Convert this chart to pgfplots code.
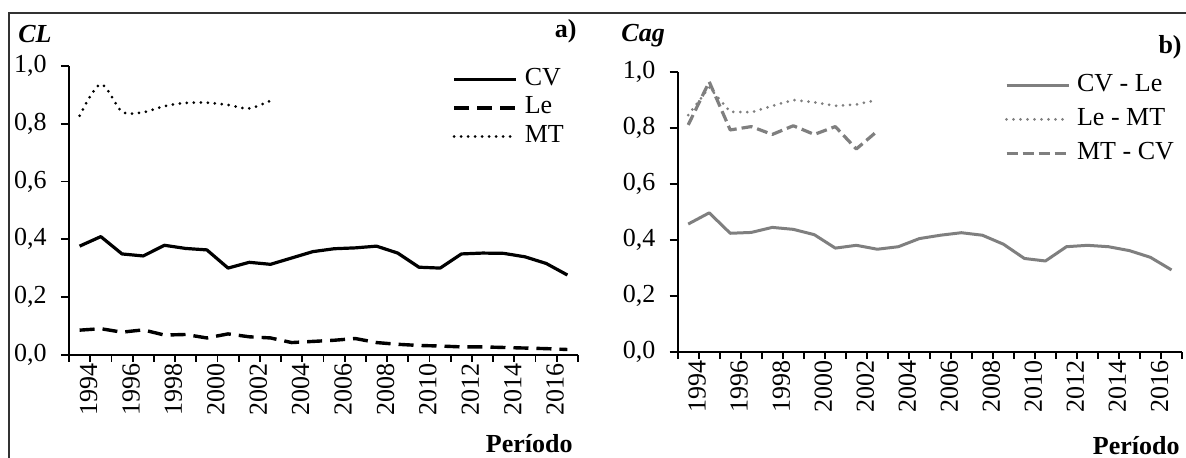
\documentclass[border=0pt]{standalone}
\usepackage{fontspec}
\setmainfont{Liberation Serif}
\usepackage{pgfplots}
\pgfplotsset{compat=1.18}

\definecolor{linegray}{RGB}{127,127,127}
\definecolor{framegray}{RGB}{50,50,50}

\newcommand{\bigfont}{\fontsize{13}{15}\selectfont}

\pgfplotsset{
  panel/.style={
    scale only axis,
    xmin=-0.5, xmax=23.5,
    ymin=0, ymax=1,
    axis x line=bottom, axis y line=left,
    axis line style={-, line width=0.9pt, black},
    tick align=outside,
    major tick length=4pt,
    minor tick length=3.5pt,
    ytick={0,0.2,0.4,0.6,0.8,1},
    ytick style={line width=0.9pt, black},
    xtick={0,...,23},
    xticklabels={1994,,1996,,1998,,2000,,2002,,2004,,2006,,2008,,2010,,2012,,2014,,2016,},
    major x tick style={draw=none},
    minor xtick={-0.5,0.5,...,23.5},
    minor x tick style={line width=0.9pt, black},
    every tick label/.append style={font=\bigfont, inner sep=0pt},
    x tick label style={rotate=90, anchor=east, yshift=-4.5pt},
    y tick label style={anchor=east, xshift=-7pt},
    /pgf/number format/.cd, fixed, fixed zerofill, precision=1, use comma, assume math mode=true,
    /pgfplots/.cd,
    legend cell align=left,
    legend image code/.code={\draw[##1] (0pt,0pt) -- (31pt,0pt); \path (34pt,0pt);},
    legend style={draw=none, fill=none, inner sep=0pt, anchor=north west,
      font=\bigfont,
      nodes={inner sep=0.5pt, text height=9pt, text depth=3pt}},
  }
}

\begin{document}
\bigfont
\begin{tikzpicture}[font=\bigfont]
\useasboundingbox (0pt,0pt) rectangle (593pt,229pt);
\draw[line width=1.1pt, framegray] (4.5pt,0pt) -- (4.5pt,222.5pt) -- (593pt,222.5pt);

% panel a
\begin{axis}[panel,
  at={(34.5pt,51.65pt)}, anchor=south west,
  width=254.5pt, height=144.35pt,
  legend style={at={(0.7525,1.0)}, row sep=1.3pt},
]
\addplot[black, line width=1.6pt, line join=round] coordinates {
(0,0.376)(1,0.409)(2,0.349)(3,0.342)(4,0.379)(5,0.368)(6,0.363)(7,0.300)
(8,0.320)(9,0.313)(10,0.335)(11,0.357)(12,0.367)(13,0.370)(14,0.376)(15,0.352)
(16,0.303)(17,0.300)(18,0.349)(19,0.352)(20,0.351)(21,0.339)(22,0.316)(23,0.276)};
\addlegendentry{CV}
\addplot[black, line width=1.7pt, dash pattern=on 7.5pt off 4pt] coordinates {
(0,0.085)(1,0.090)(2,0.078)(3,0.086)(4,0.068)(5,0.070)(6,0.058)(7,0.072)
(8,0.062)(9,0.058)(10,0.042)(11,0.046)(12,0.050)(13,0.056)(14,0.042)(15,0.036)
(16,0.032)(17,0.030)(18,0.027)(19,0.027)(20,0.025)(21,0.023)(22,0.021)(23,0.018)};
\addlegendentry{Le}
\addplot[black, line width=1.5pt, line cap=round, dash pattern=on 0pt off 3.5pt, smooth] coordinates {
(0,0.828)(1,0.937)(2,0.842)(3,0.840)(4,0.861)(5,0.872)(6,0.873)(7,0.865)(8,0.853)(9,0.880)};
\addlegendentry{MT}
\end{axis}

% panel b
\begin{axis}[panel,
  at={(338.85pt,53pt)}, anchor=south west,
  width=252.15pt, height=140pt,
  legend style={at={(0.648,1.0)}, row sep=4pt},
]
\addplot[linegray, line width=1.5pt, line join=round] coordinates {
(0,0.457)(1,0.497)(2,0.424)(3,0.427)(4,0.445)(5,0.438)(6,0.419)(7,0.371)
(8,0.381)(9,0.367)(10,0.376)(11,0.405)(12,0.417)(13,0.426)(14,0.417)(15,0.385)
(16,0.334)(17,0.325)(18,0.376)(19,0.381)(20,0.376)(21,0.362)(22,0.338)(23,0.293)};
\addlegendentry{CV - Le}
\addplot[linegray, line width=1.5pt, line cap=round, dash pattern=on 0pt off 3.5pt] coordinates {
(0,0.846)(1,0.945)(2,0.858)(3,0.856)(4,0.879)(5,0.900)(6,0.892)(7,0.879)(8,0.884)(9,0.900)};
\addlegendentry{Le - MT}
\addplot[linegray, line width=1.6pt, dash pattern=on 5.5pt off 2.5pt, line join=round] coordinates {
(0,0.811)(1,0.965)(2,0.793)(3,0.805)(4,0.777)(5,0.808)(6,0.777)(7,0.805)(8,0.725)(9,0.789)};
\addlegendentry{MT - CV}
\end{axis}

\node[anchor=base west, font=\bigfont\bfseries\itshape, inner sep=0pt] at (9pt,207.5pt) {CL};
\node[anchor=base west, font=\bigfont\bfseries\itshape, inner sep=0pt] at (310.5pt,208pt) {Cag};
\node[anchor=base east, font=\bigfont\bfseries, inner sep=0pt] at (288.5pt,210pt) {a)};
\node[anchor=base east, font=\bigfont\bfseries, inner sep=0pt] at (591pt,202pt) {b)};
\node[anchor=base east, font=\bigfont\bfseries, inner sep=0pt] at (286.5pt,2.5pt) {Período};
\node[anchor=base east, font=\bigfont\bfseries, inner sep=0pt] at (590pt,1.5pt) {Período};
\end{tikzpicture}
\end{document}
